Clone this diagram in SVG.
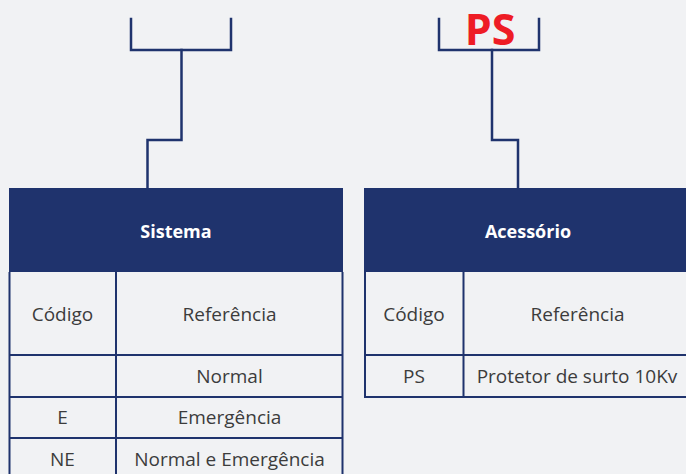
<svg xmlns="http://www.w3.org/2000/svg" width="686" height="474" viewBox="0 0 686 474">
<style>
.conn{fill:none;stroke:#1f336d;stroke-width:2.5;stroke-linejoin:miter;stroke-linecap:square}
.grid{stroke:#1f336d;stroke-width:2;fill:none}
.hdr{fill:#1f336d}
.ht{font-family:"Open Sans","Liberation Sans",sans-serif;font-weight:700;font-size:18px;fill:#ffffff;text-anchor:middle}
.bt{font-family:"Open Sans","Liberation Sans",sans-serif;font-weight:400;font-size:19px;fill:#3c3c3c;text-anchor:middle}
.ps{font-family:"Open Sans","Liberation Sans",sans-serif;font-weight:700;font-size:43px;fill:#ee1c25;text-anchor:middle}
</style>
<rect width="686" height="474" fill="#f1f2f4"/>
<g id="connectors">
<path class="conn" d="M131,19 V50 H231 V19"/>
<path class="conn" d="M181.5,50 V140 H147.5 V188"/>
<path class="conn" d="M439,19 V50 H539 V19"/>
<path class="conn" d="M492,50 V140 H518 V188"/>
</g>
<g id="ps-label">
<text class="ps" x="490" y="45">PS</text>
</g>
<g id="sistema">
<rect class="hdr" x="9" y="188" width="334" height="84"/>
<text class="ht" x="176" y="237.5">Sistema</text>
<path class="grid" d="M9.5,272 V474 M342.5,272 V474 M116,272 V474 M9,355 H343 M9,397 H343 M9,438 H343"/>
<text class="bt" x="62.5" y="321">Código</text>
<text class="bt" x="229.5" y="321">Referência</text>
<text class="bt" x="229.5" y="383">Normal</text>
<text class="bt" x="62.5" y="424">E</text>
<text class="bt" x="229.5" y="424">Emergência</text>
<text class="bt" x="62.5" y="466">NE</text>
<text class="bt" x="229.5" y="466">Normal e Emergência</text>
</g>
<g id="acessorio">
<rect class="hdr" x="364" y="188" width="330" height="84"/>
<text class="ht" x="528" y="237.5">Acessório</text>
<path class="grid" d="M365,272 V397 M463.5,272 V397 M364,355 H686 M364,397 H686"/>
<text class="bt" x="414" y="321">Código</text>
<text class="bt" x="577.5" y="321">Referência</text>
<text class="bt" x="414" y="383">PS</text>
<text class="bt" x="577" y="383">Protetor de surto 10Kv</text>
</g>
</svg>
